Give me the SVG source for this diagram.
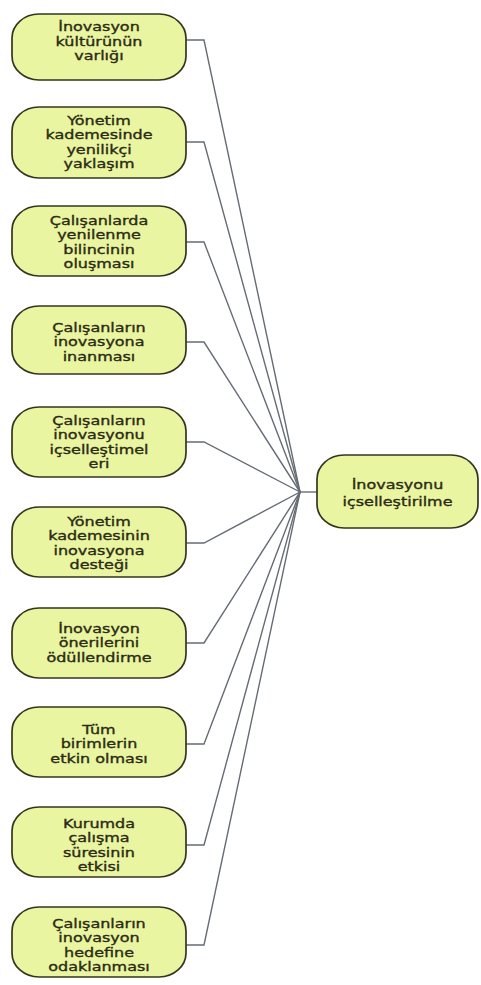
<svg xmlns="http://www.w3.org/2000/svg" width="481" height="985" viewBox="0 0 481 985">
  <style>
    .box { fill: #E9F5A0; stroke: #35351f; stroke-width: 1.7; }
    .lbl { font-family: "DejaVu Sans", Verdana, sans-serif; font-size: 12.5px; fill: #2b2b14; stroke: #2b2b14; stroke-width: 0.35; text-anchor: middle; }
    .wire { fill: none; stroke: #666c76; stroke-width: 1.4; }
  </style>
  <rect width="481" height="985" fill="#ffffff"/>

  <!-- connectors: each cause runs right, then slants into the hub at (300,492) -->
  <g id="connectors" class="wire">
    <polyline points="186,40 204,40 300,492"/>
    <polyline points="186,142 204,142 300,492"/>
    <polyline points="186,242 204,242 300,492"/>
    <polyline points="186,342 204,342 300,492"/>
    <polyline points="186,442 204,442 300,492"/>
    <polyline points="186,543 204,543 300,492"/>
    <polyline points="186,643 204,643 300,492"/>
    <polyline points="186,744 204,744 300,492"/>
    <polyline points="186,845 204,845 300,492"/>
    <polyline points="186,945 204,945 300,492"/>
    <line x1="300" y1="492" x2="317" y2="492"/>
  </g>

  <g id="n1">
    <rect class="box" x="12" y="14" width="174" height="66" rx="27" ry="24"/>
    <g transform="translate(99,0) scale(1.28,1)">
      <text class="lbl" x="0" y="31.5">İnovasyon</text>
      <text class="lbl" x="0" y="46">kültürünün</text>
      <text class="lbl" x="0" y="60.5">varlığı</text>
    </g>
  </g>

  <g id="n2">
    <rect class="box" x="12" y="107" width="174" height="71" rx="27" ry="24"/>
    <g transform="translate(99,0) scale(1.28,1)">
      <text class="lbl" x="0" y="124.8">Yönetim</text>
      <text class="lbl" x="0" y="139.3">kademesinde</text>
      <text class="lbl" x="0" y="153.8">yenilikçi</text>
      <text class="lbl" x="0" y="168.3">yaklaşım</text>
    </g>
  </g>

  <g id="n3">
    <rect class="box" x="12" y="206" width="174" height="70" rx="27" ry="24"/>
    <g transform="translate(99,0) scale(1.28,1)">
      <text class="lbl" x="0" y="224.8">Çalışanlarda</text>
      <text class="lbl" x="0" y="239.3">yenilenme</text>
      <text class="lbl" x="0" y="253.8">bilincinin</text>
      <text class="lbl" x="0" y="268.3">oluşması</text>
    </g>
  </g>

  <g id="n4">
    <rect class="box" x="12" y="306" width="174" height="68" rx="27" ry="24"/>
    <g transform="translate(99,0) scale(1.28,1)">
      <text class="lbl" x="0" y="332">Çalışanların</text>
      <text class="lbl" x="0" y="346.5">inovasyona</text>
      <text class="lbl" x="0" y="361">inanması</text>
    </g>
  </g>

  <g id="n5">
    <rect class="box" x="12" y="407" width="174" height="70" rx="27" ry="24"/>
    <g transform="translate(99,0) scale(1.28,1)">
      <text class="lbl" x="0" y="424.8">Çalışanların</text>
      <text class="lbl" x="0" y="439.3">inovasyonu</text>
      <text class="lbl" x="0" y="453.8">içselleştimel</text>
      <text class="lbl" x="0" y="468.3">eri</text>
    </g>
  </g>

  <g id="n6">
    <rect class="box" x="12" y="507" width="174" height="70" rx="27" ry="24"/>
    <g transform="translate(99,0) scale(1.28,1)">
      <text class="lbl" x="0" y="525.8">Yönetim</text>
      <text class="lbl" x="0" y="540.3">kademesinin</text>
      <text class="lbl" x="0" y="554.8">inovasyona</text>
      <text class="lbl" x="0" y="569.3">desteği</text>
    </g>
  </g>

  <g id="n7">
    <rect class="box" x="12" y="608" width="174" height="70" rx="27" ry="24"/>
    <g transform="translate(99,0) scale(1.28,1)">
      <text class="lbl" x="0" y="633">İnovasyon</text>
      <text class="lbl" x="0" y="647.5">önerilerini</text>
      <text class="lbl" x="0" y="662">ödüllendirme</text>
    </g>
  </g>

  <g id="n8">
    <rect class="box" x="12" y="707" width="174" height="70" rx="27" ry="24"/>
    <g transform="translate(99,0) scale(1.28,1)">
      <text class="lbl" x="0" y="734">Tüm</text>
      <text class="lbl" x="0" y="748.5">birimlerin</text>
      <text class="lbl" x="0" y="763">etkin olması</text>
    </g>
  </g>

  <g id="n9">
    <rect class="box" x="12" y="807" width="174" height="70" rx="27" ry="24"/>
    <g transform="translate(99,0) scale(1.28,1)">
      <text class="lbl" x="0" y="827.8">Kurumda</text>
      <text class="lbl" x="0" y="842.3">çalışma</text>
      <text class="lbl" x="0" y="856.8">süresinin</text>
      <text class="lbl" x="0" y="871.3">etkisi</text>
    </g>
  </g>

  <g id="n10">
    <rect class="box" x="12" y="907" width="174" height="70" rx="27" ry="24"/>
    <g transform="translate(99,0) scale(1.28,1)">
      <text class="lbl" x="0" y="927.8">Çalışanların</text>
      <text class="lbl" x="0" y="942.3">inovasyon</text>
      <text class="lbl" x="0" y="956.8">hedefine</text>
      <text class="lbl" x="0" y="971.3">odaklanması</text>
    </g>
  </g>

  <g id="target">
    <rect class="box" x="317" y="455" width="161" height="73" rx="27" ry="24"/>
    <g transform="translate(397.5,0) scale(1.28,1)">
      <text class="lbl" x="0" y="489.5">İnovasyonu</text>
      <text class="lbl" x="0" y="506">içselleştirilme</text>
    </g>
  </g>
</svg>
